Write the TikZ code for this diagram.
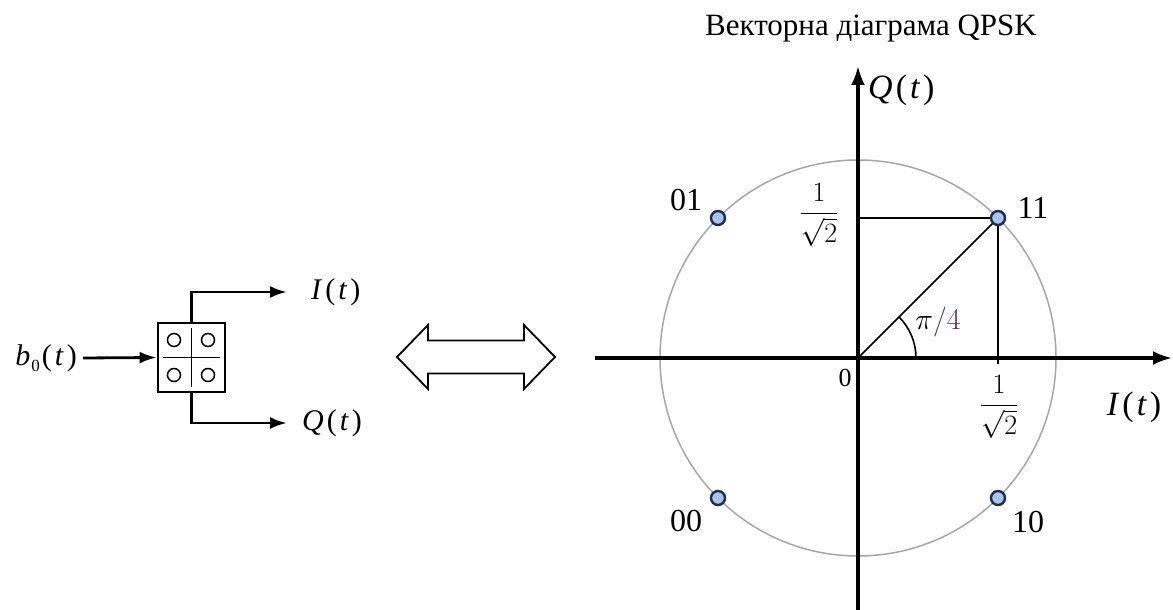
\documentclass[tikz,border=0pt]{standalone}
\usepackage{fix-cm}
\usepackage{fontspec}
\setmainfont{Liberation Serif}
\usepackage{amsmath, amssymb}
\usetikzlibrary{arrows.meta}
\definecolor{ptfill}{HTML}{A9C4EE}
\definecolor{ptdraw}{HTML}{1F2E4A}
\definecolor{angcol}{HTML}{5A3446}
\tikzset{
	axis/.style={line width=3.2pt, -{Latex[length=19pt,width=14pt]}},
	sig/.style={line width=2.8pt, -{Latex[length=17pt,width=12pt]}},
	thin line/.style={line width=1.6pt},
	pt/.style={circle, draw=ptdraw, fill=ptfill, line width=2.4pt, minimum size=14pt, inner sep=0pt},
	lbl/.style={font=\fontsize{32}{34}\selectfont, inner sep=0pt},
	sym/.style={font=\fontsize{30}{32}\selectfont, inner sep=0pt},
	frac/.style={font=\fontsize{28}{32}\selectfont, inner sep=0pt}
}
\newcommand{\sigarg}[1]{\textit{#1}\kern3pt(\kern3pt\textit{t}\kern3pt)}
\begin{document}
\begin{tikzpicture}[x=1pt, y=1pt]
	\useasboundingbox (0,0) rectangle (1173,610);

	% mapper block
	\node (map) [draw, line width=2.8pt, minimum width=67pt, minimum height=69pt, inner sep=0pt] at (191.5,252.5) {};
	\draw [line width=1.5pt] (191.5,223) -- (191.5,282);
	\draw [line width=1.5pt] (163,252.5) -- (220,252.5);
	\draw [line width=1.5pt] (174,270) circle [radius=6.5];
	\draw [line width=1.5pt] (208,270) circle [radius=6.5];
	\draw [line width=1.5pt] (174,235) circle [radius=6.5];
	\draw [line width=1.5pt] (208,235) circle [radius=6.5];

	\node (b0) [sym, anchor=east] at (77,252) {\textit{b}\kern1pt\raisebox{-6pt}{\fontsize{17}{19}\selectfont 0}\kern2pt(\kern3pt\textit{t}\kern3pt)};
	\coordinate (iend) at (287,318);
	\coordinate (qend) at (287,187);
	\draw [sig] (b0.east) ++(6,0) -- (map.west);
	\draw [sig] (map.north) |- (iend);
	\draw [sig] (map.south) |- (qend);
	\node (ilbl) [sym, anchor=west] at (311,318) {\sigarg{I}};
	\node (qlbl) [sym, anchor=west] at (302,187) {\sigarg{Q}};

	% double arrow
	\draw [line width=1.8pt, line join=miter] (397,253) -- (428,285) -- (428,269.5) -- (524,269.5) -- (524,285) -- (555,253)
		-- (524,221) -- (524,236.5) -- (428,236.5) -- (428,221) -- cycle;

	% vector diagram
	\node (title) [font=\fontsize{31}{33}\selectfont, inner sep=0pt] at (871,581) {Векторна діаграма QPSK};
	\coordinate (O) at (858,252);
	\coordinate (xl) at (595,252);
	\coordinate (xr) at (1172,252);
	\coordinate (yb) at (858,0);
	\coordinate (yt) at (858,544);
	\draw [gray!70, line width=1.5pt] (O) circle [radius=198];
	\draw [axis] (xl) -- (xr);
	\draw [axis] (yb) -- (yt);

	\coordinate (c11) at (998,392);
	\coordinate (py) at (858,392);
	\coordinate (px) at (998,246);
	\draw [thin line] (O) -- (c11);
	\draw [thin line] (c11) -- (py);
	\draw [thin line] (c11) -- (px);
	\draw [thin line] (O) ++(58,0) arc [start angle=0, end angle=45, radius=58];

	\node (p11) [pt] at (c11) {};
	\node (p01) [pt] at (718,392) {};
	\node (p00) [pt] at (718,112) {};
	\node (p10) [pt] at (998,112) {};

	\node (l11) [lbl] at (1033,402) {11};
	\node (l01) [lbl] at (686,410) {01};
	\node (l00) [lbl] at (686,89) {00};
	\node (l10) [lbl] at (1028,88) {10};

	\node (zero) [font=\fontsize{26}{28}\selectfont, inner sep=0pt] at (845,232) {0};
	\node (fy) [frac] at (819,395) {$\dfrac{1}{\sqrt{2}}$};
	\node (fx) [frac] at (999,203) {$\dfrac{1}{\sqrt{2}}$};
	\node (ang) [font=\fontsize{30}{32}\selectfont, inner sep=0pt] at (938,288) {$\pi\textcolor{angcol}{/4}$};
	\node (qax) [font=\fontsize{34}{36}\selectfont, inner sep=0pt, anchor=west] at (868,520) {\sigarg{Q}};
	\node (iax) [font=\fontsize{34}{36}\selectfont, inner sep=0pt] at (1134,203) {\sigarg{I}};
\end{tikzpicture}
\end{document}
